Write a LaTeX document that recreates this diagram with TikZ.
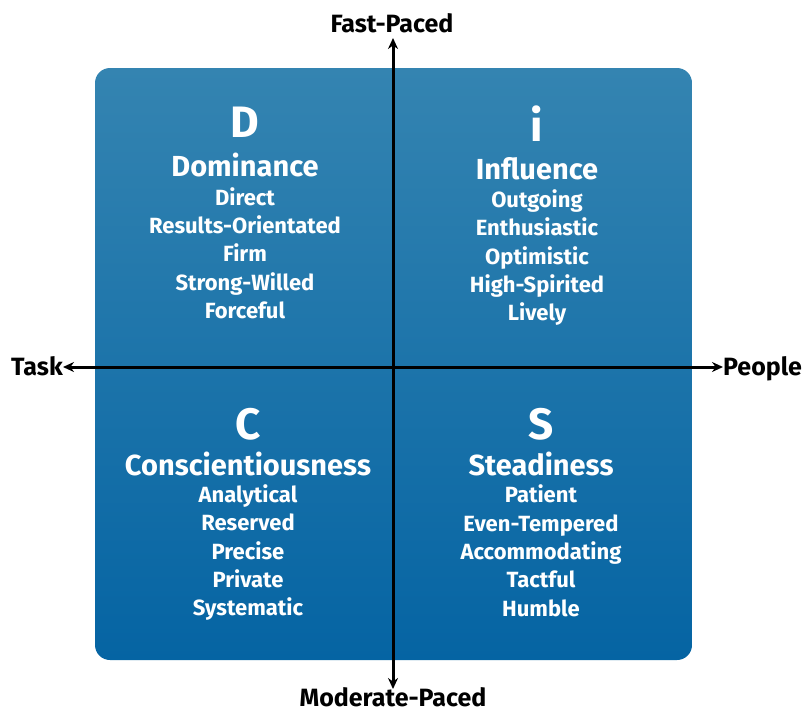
\documentclass[tikz,border=0pt]{standalone}
\usepackage{fontspec}
\setmainfont{Fira Sans}
\usetikzlibrary{arrows.meta}
\definecolor{boxtop}{RGB}{52,132,177}
\definecolor{boxbot}{RGB}{5,100,163}
\tikzset{
  letter/.style={text=white, font=\fontsize{44}{44}\selectfont\bfseries, inner sep=0pt, anchor=base},
  title/.style={text=white, font=\fontsize{29}{29}\selectfont\bfseries, inner sep=0pt, anchor=base},
  item/.style={text=white, font=\fontsize{22}{22}\selectfont\bfseries, inner sep=0pt, anchor=base},
  axislabel/.style={text=black, font=\fontsize{25}{25}\selectfont\bfseries, inner sep=0pt, anchor=base},
  axis/.style={line width=3pt, {Stealth[length=11pt,width=10pt]}-{Stealth[length=11pt,width=10pt]}}
}
\begin{document}
\begin{tikzpicture}[x=1pt,y=-1pt]
\useasboundingbox (0,0) rectangle (805,712);
\shade[top color=boxtop, bottom color=boxbot, rounded corners=15pt] (95,68) rectangle (692,660);
% axis labels
\node[axislabel] (fast) at (392,32) {Fast-Paced};
\node[axislabel] (slow) at (393,706) {Moderate-Paced};
\node[axislabel, anchor=base east] (task) at (63,375) {Task};
\node[axislabel, anchor=base west] (people) at (723,375) {People};
\coordinate (ltip) at (63,367);
\coordinate (rtip) at (723,367);
\coordinate (ttip) at (393,38);
\coordinate (btip) at (393,689);
\draw[axis] (ltip) -- (rtip);
\draw[axis] (ttip) -- (btip);
% D
\node[letter] (dl) at (245,137) {D};
\node[title] (dt) at (245,176) {Dominance};
\node[item] (d1) at (245,205.5) {Direct};
\node[item] (d2) at (245,233.5) {Results-Orientated};
\node[item] (d3) at (245,261.5) {Firm};
\node[item] (d4) at (245,290.5) {Strong-Willed};
\node[item] (d5) at (245,318.5) {Forceful};
% i
\node[letter] (il) at (537,141) {i};
\node[title] (it) at (537,179) {Influence};
\node[item] (i1) at (537,207.5) {Outgoing};
\node[item] (i2) at (537,235.5) {Enthusiastic};
\node[item] (i3) at (537,264.5) {Optimistic};
\node[item] (i4) at (537,292.5) {High-Spirited};
\node[item] (i5) at (537,320.5) {Lively};
% C
\node[letter] (cl) at (248,439) {C};
\node[title] (ct) at (248,475) {Conscientiousness};
\node[item] (c1) at (248,502.5) {Analytical};
\node[item] (c2) at (248,530.5) {Reserved};
\node[item] (c3) at (248,559.5) {Precise};
\node[item] (c4) at (248,587.5) {Private};
\node[item] (c5) at (248,615.5) {Systematic};
% S
\node[letter] (sl) at (541,439) {S};
\node[title] (st) at (541,475) {Steadiness};
\node[item] (s1) at (541,502.5) {Patient};
\node[item] (s2) at (541,531.5) {Even-Tempered};
\node[item] (s3) at (541,559.5) {Accommodating};
\node[item] (s4) at (541,587.5) {Tactful};
\node[item] (s5) at (541,616.5) {Humble};
\end{tikzpicture}
\end{document}
